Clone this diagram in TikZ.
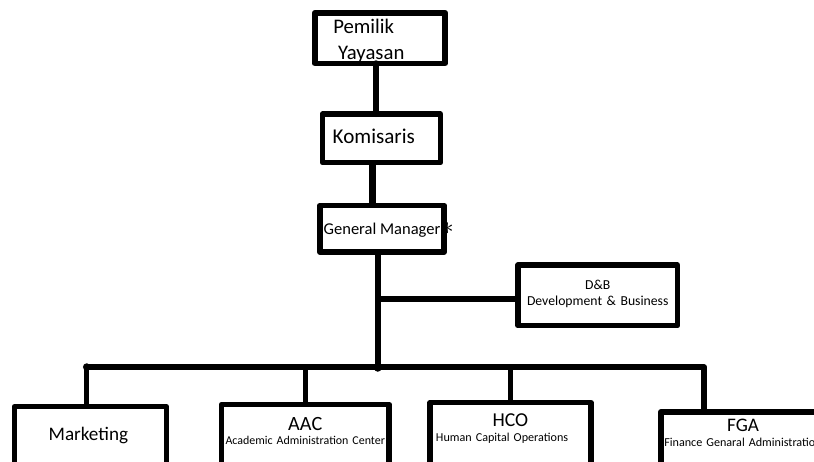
\documentclass[tikz,border=0pt]{standalone}
\usepackage{fontspec}
\setmainfont{Carlito}
\usepackage{tikz}
\def\linkwidth{0.11cm}

\begin{document}
\begin{tikzpicture}[x=0.02cm, y=-0.02cm, line width=\linkwidth, line join=round]
    \tikzstyle{box}=[draw, line width=\linkwidth, inner sep=0pt, outer sep=0pt]
    \tikzstyle{link}=[line width=\linkwidth]
    \tikzstyle{dot}=[fill=black]
    \useasboundingbox (0,0) rectangle (814,461);
    \clip (0,0) rectangle (814,461);

    % top of the chart
    \node[box, minimum width=2.61cm, text width=1.87cm, align=left, text height=0.405cm, text depth=0.605cm,
          font=\fontsize{11.8pt}{15pt}\selectfont] (Pemilik) at (380,38) {Pemilik\\\hspace*{2.8pt}Yayasan};
    \node[box, minimum width=2.36cm, text width=1.952cm, align=left, text height=0.586cm, text depth=0.384cm,
          font=\fontsize{12pt}{14pt}\selectfont] (Komisaris) at (381.5,138.25) {Komisaris};
    \node[box, minimum width=2.488cm, text height=0.57cm, text depth=0.364cm,
          font=\fontsize{9.4pt}{11pt}\selectfont] (GM) at (382,228.85)
          {General Manager\rlap{\kern0.5pt{\fontsize{14pt}{14pt}\selectfont$\ast$}}};
    \node[box, minimum width=3.19cm, text width=3.19cm, align=center, text height=0.486cm, text depth=0.728cm,
          font=\fontsize{7.8pt}{9pt}\selectfont] (DB) at (597.75,295.35) {D\&B\\Development \& Business};

    % divisions
    \node[box, minimum width=3.036cm, text height=0.68cm, text depth=0.8cm,
          font=\fontsize{10.9pt}{13pt}\selectfont] (Marketing) at (90.4,443.7) {Marketing\kern2.3pt};
    \node[box, minimum width=3.358cm, text width=3.358cm, align=center, text height=0.526cm, text depth=1cm,
          font=\fontsize{6.8pt}{7.9pt}\selectfont] (AAC) at (305.25,442.7)
          {{\fontsize{11.5pt}{7.9pt}\selectfont AAC}\\Academic Administration Center};
    \node[box, minimum width=3.216cm, text width=3.216cm, align=center, text height=0.47cm, text depth=1.2cm,
          font=\fontsize{6.9pt}{8.9pt}\selectfont] (HCO) at (510.4,444.25)
          {{\fontsize{11.2pt}{8.9pt}\selectfont HCO}\\\mbox{Human Capital Operations\kern9.5pt}};
    \node[box, minimum width=3.288cm, text width=3.288cm, align=center, text height=0.398cm, text depth=1.2cm,
          font=\fontsize{6.9pt}{8.5pt}\selectfont] (FGA) at (743,451.75)
          {{\fontsize{10.9pt}{8.5pt}\selectfont FGA}\\Finance Genaral Administration};

    \coordinate (p-out) at ([xshift=-0.08cm]Pemilik.south);
    \coordinate (k-out) at ([xshift=-0.18cm]Komisaris.south);
    \coordinate (hub) at (377.8,368);
    \coordinate (bus-l) at (86.7,367);
    \coordinate (bus-r) at (704.2,367);
    \coordinate (db-in) at ([yshift=-0.07cm]DB.west);

    \draw[link, line width=0.12cm, line cap=round] (p-out) -- (p-out |- Komisaris.north);
    \draw[link, line width=0.14cm] (k-out) -- (k-out |- GM.north);
    \draw[link] (GM.south -| hub) -- (hub);
    \draw[link] (hub |- db-in) -- (db-in);
    \draw[link] (bus-l |- Marketing.north) -- (bus-l) -- (bus-r) -- (bus-r |- FGA.north);
    \draw[link] (AAC.north |- bus-l) -- (AAC.north);
    \draw[link] (HCO.north |- bus-l) -- (HCO.north);
    \fill[dot] (bus-l) circle (0.075cm);
    \fill[dot] (hub) circle (0.075cm);
\end{tikzpicture}
\end{document}
